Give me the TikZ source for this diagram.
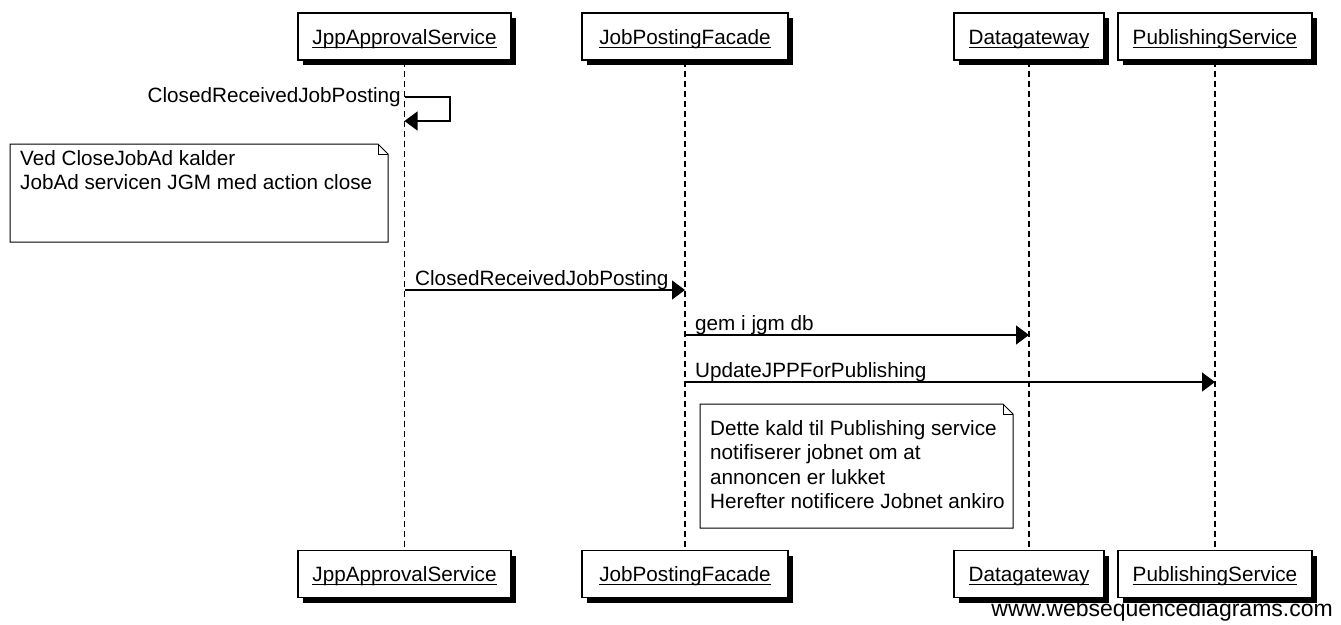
\documentclass[tikz,border=0pt]{standalone}
\usepackage{fontspec}
\setmainfont{Liberation Sans}
\usetikzlibrary{arrows.meta,shadows}
\newcommand\myul[1]{\setbox0\hbox{#1}\rlap{\rule[-3.5pt]{\wd0}{1pt}}\box0}
\begin{document}
\begin{tikzpicture}[x=1pt,y=-1pt,
  every node/.style={font=\fontsize{20.7}{24.4}\selectfont, inner sep=0pt},
  pbox/.style={draw, line width=1.2pt, fill=white, minimum height=47pt, text height=15pt, text depth=0pt,
    drop shadow={shadow xshift=5pt,shadow yshift=-5pt,fill=black,opacity=1}},
  life/.style={line width=1.2pt, dash pattern=on 6pt off 4pt},
  msg/.style={line width=1.2pt, -{Triangle[length=13pt,width=19pt]}},
  notebox/.style={draw, line width=1pt, fill=white},
  lbl/.style={anchor=base west}
]
\useasboundingbox[fill=white] (0,0) rectangle (1341,624);

% participants (top)
\node[pbox, minimum width=213pt] (aT) at (404.5,36.5) {\myul{JppApprovalService}};
\node[pbox, minimum width=206pt] (bT) at (685,36.5) {\myul{JobPostingFacade}};
\node[pbox, minimum width=150pt] (cT) at (1029,36.5) {\myul{Datagateway}};
\node[pbox, minimum width=194pt] (dT) at (1215,36.5) {\myul{PublishingService}};
% participants (bottom)
\node[pbox, minimum width=213pt] (aB) at (404.5,574) {\myul{JppApprovalService}};
\node[pbox, minimum width=206pt] (bB) at (685,574) {\myul{JobPostingFacade}};
\node[pbox, minimum width=150pt] (cB) at (1029,574) {\myul{Datagateway}};
\node[pbox, minimum width=194pt] (dB) at (1215,574) {\myul{PublishingService}};

% lifelines
\draw[life] (aT.south) -- (aB.north);
\draw[life] (bT.south) -- (bB.north);
\draw[life] (cT.south) -- (cB.north);
\draw[life] (dT.south) -- (dB.north);

% self message
\coordinate (s1a) at (404.5,97);
\coordinate (s1b) at (450,121);
\coordinate (s1c) at (404.5,121);
\draw[msg] (s1a) -| (s1b) -- (s1c);
\node[anchor=base east] (l1) at (401,102) {ClosedReceivedJobPosting};

% note 1
\draw[notebox] (10,144) -- (378,144) -- (388,154) -- (388,242) -- (10,242) -- cycle;
\draw[line width=0.8pt] (378,144) -- (378,154) -- (388,154);
\node[anchor=north west, align=left] (n1) at (20,150) {Ved CloseJobAd kalder\\JobAd servicen JGM med action close};

% message 2
\coordinate (m2a) at (404.5,290);
\coordinate (m2b) at (685,290);
\draw[msg] (m2a) -- (m2b);
\node[lbl] (l2) at (415,285) {ClosedReceivedJobPosting};

% message 3
\coordinate (m3a) at (685,335);
\coordinate (m3b) at (1029,335);
\draw[msg] (m3a) -- (m3b);
\node[lbl] (l3) at (695,330) {gem i jgm db};

% message 4
\coordinate (m4a) at (685,382);
\coordinate (m4b) at (1215,382);
\draw[msg] (m4a) -- (m4b);
\node[lbl] (l4) at (695,377) {UpdateJPPForPublishing};

% note 2
\draw[notebox] (700,404) -- (1003,404) -- (1013,414) -- (1013,528) -- (700,528) -- cycle;
\draw[line width=0.8pt] (1003,404) -- (1003,414) -- (1013,414);
\node[anchor=north west, align=left] (n2) at (710,420) {Dette kald til Publishing service\\notifiserer jobnet om at\\annoncen er lukket\\Herefter notificere Jobnet ankiro};

% watermark
\node[anchor=base east, font=\fontsize{23}{26}\selectfont] (wm) at (1333,616) {www.websequencediagrams.com};
\end{tikzpicture}
\end{document}
